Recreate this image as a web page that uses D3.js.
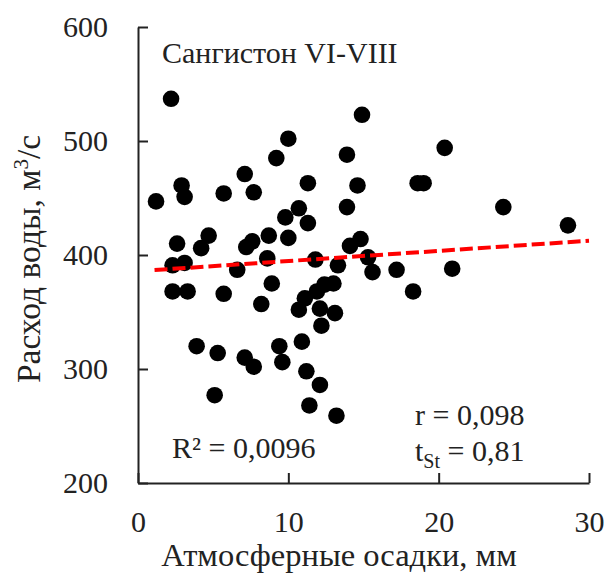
<!DOCTYPE html>
<html>
<head>
<meta charset="utf-8">
<script src="https://cdn.jsdelivr.net/npm/d3@7"></script>
<style>
  html, body { margin: 0; padding: 0; background: #fff; }
  svg text { font-family: "Liberation Serif", "Times New Roman", serif; fill: #222; }
</style>
</head>
<body>
<svg id="chart" width="608" height="575"></svg>
<script>
// Precipitation (mm) and water discharge (m3/s), Sangiston, June–August
const precip = [
  1.2, 2.2, 2.9, 3.1, 2.6, 2.3, 3.1, 2.3, 3.3, 3.9,
  4.2, 4.7, 5.1, 5.3, 5.7, 5.7, 6.6, 7.1, 7.1, 7.2,
  7.6, 7.7, 7.7, 8.2, 8.6, 8.7, 8.9, 9.2, 9.4, 9.6,
  9.8, 10.0, 10.0, 10.7, 10.9, 10.7, 11.1, 11.2, 11.3, 11.3,
  11.4, 11.8, 11.9, 12.1, 12.2, 12.1, 12.4, 13.0, 13.1, 13.2,
  13.3, 13.9, 13.9, 14.1, 14.6, 14.8, 14.9, 15.3, 15.6, 17.2,
  18.3, 18.6, 19.0, 20.4, 20.9, 24.3, 28.6
];
const discharge = [
  447, 537, 461, 451, 410, 391, 393, 368, 368, 320,
  406, 417, 277, 314, 454, 366, 387, 471, 310, 407,
  412, 302, 455, 357, 397, 417, 375, 485, 320, 306,
  433, 415, 502, 441, 324, 352, 362, 298, 463, 428,
  268, 396, 368, 286, 338, 353, 374, 375, 349, 259,
  391, 488, 442, 408, 461, 414, 523, 398, 385, 387,
  368, 463, 463, 494, 388, 442, 426
];

// Linear fit shown as the dashed trend line
const fitIntercept = 385.8;
const fitSlope = 0.89;
const fitRange = [1.1, 30];

const xTicks = [0, 10, 20, 30];
const yTicks = [200, 300, 400, 500, 600];

const svg = d3.select("#chart");
const plotLeft = 138, plotRight = 589, plotTop = 27, plotBottom = 483;

const x = d3.scaleLinear().domain([0, 30]).range([plotLeft, plotRight]);
const y = d3.scaleLinear().domain([200, 600]).range([plotBottom, plotTop]);

// Axes: ticks point inwards
const xAxis = d3.axisBottom(x).tickValues(xTicks).tickSizeInner(-10).tickSizeOuter(0).tickPadding(28);
const yAxis = d3.axisLeft(y).tickValues(yTicks).tickSizeInner(-10).tickSizeOuter(0).tickPadding(30);

const gx = svg.append("g").attr("transform", `translate(0,${plotBottom})`).call(xAxis);
const gy = svg.append("g").attr("transform", `translate(${plotLeft},0)`).call(yAxis);

[gx, gy].forEach(g => {
  g.select(".domain").attr("stroke", "#222").attr("stroke-width", 2);
  g.selectAll(".tick line").attr("stroke", "#222").attr("stroke-width", 2);
  g.selectAll(".tick text")
    .attr("font-family", '"Liberation Serif", "Times New Roman", serif')
    .attr("font-size", 30).attr("fill", "#333");
});
gx.selectAll(".tick text").attr("dy", "0.71em");

// Points
svg.append("g").selectAll("circle")
  .data(precip.map((p, i) => [p, discharge[i]]))
  .join("circle")
  .attr("cx", d => x(d[0]))
  .attr("cy", d => y(d[1]))
  .attr("r", 8.3)
  .attr("fill", "#000");

// Trend line
svg.append("line")
  .attr("x1", x(fitRange[0])).attr("y1", y(fitIntercept + fitSlope * fitRange[0]))
  .attr("x2", x(fitRange[1])).attr("y2", y(fitIntercept + fitSlope * fitRange[1]))
  .attr("stroke", "#ff0000").attr("stroke-width", 4)
  .attr("stroke-dasharray", "13,5");

// Titles and annotations
svg.append("text")
  .attr("x", 339).attr("y", 566)
  .attr("text-anchor", "middle").attr("font-size", 32.5)
  .text("Атмосферные осадки, мм");

const yt = svg.append("text")
  .attr("transform", `translate(40,${(plotTop + plotBottom) / 2 + 4}) rotate(-90)`)
  .attr("text-anchor", "middle").attr("font-size", 33.5);
yt.append("tspan").text("Расход воды, м");
yt.append("tspan").attr("font-size", 21).attr("dy", -12).text("3");
yt.append("tspan").attr("dy", 12).text("/с");

svg.append("text")
  .attr("x", 162).attr("y", 63).attr("font-size", 30)
  .text("Сангистон VI-VIII");

svg.append("text")
  .attr("x", 172).attr("y", 458).attr("font-size", 30)
  .text("R² = 0,0096");

svg.append("text")
  .attr("x", 415).attr("y", 425).attr("font-size", 30)
  .text("r = 0,098");

const ts = svg.append("text")
  .attr("x", 415).attr("y", 461).attr("font-size", 30);
ts.append("tspan").text("t");
ts.append("tspan").attr("font-size", 20).attr("dy", 7).text("St");
ts.append("tspan").attr("dy", -7).text(" = 0,81");
</script>
</body>
</html>
